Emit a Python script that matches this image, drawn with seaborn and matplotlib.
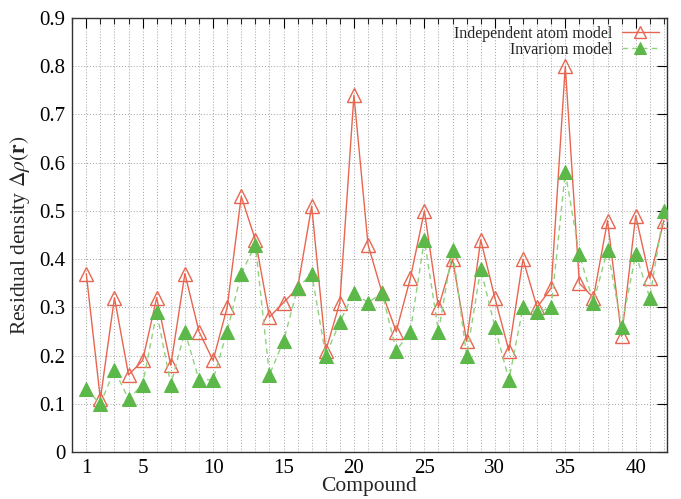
import numpy as np
import pandas as pd
import matplotlib
matplotlib.use('Agg')
import matplotlib.pyplot as plt
import seaborn as sns
from matplotlib.ticker import MultipleLocator, FixedLocator

sns.set_theme(style='white')
plt.rcParams['font.family'] = ['Liberation Serif', 'DejaVu Serif']
plt.rcParams['mathtext.fontset'] = 'stix'

# Residual density per compound
compound = list(range(1, 43))
iam = [0.37, 0.11, 0.32, 0.16, 0.19, 0.32, 0.18, 0.37, 0.25, 0.19,
       0.30, 0.53, 0.44, 0.28, 0.31, 0.34, 0.51, 0.21, 0.31, 0.74,
       0.43, 0.33, 0.25, 0.36, 0.50, 0.30, 0.40, 0.23, 0.44, 0.32,
       0.21, 0.40, 0.30, 0.34, 0.80, 0.35, 0.32, 0.48, 0.24, 0.49,
       0.36, 0.48]
invariom = [0.13, 0.10, 0.17, 0.11, 0.14, 0.29, 0.14, 0.25, 0.15, 0.15,
            0.25, 0.37, 0.43, 0.16, 0.23, 0.34, 0.37, 0.20, 0.27, 0.33,
            0.31, 0.33, 0.21, 0.25, 0.44, 0.25, 0.42, 0.20, 0.38, 0.26,
            0.15, 0.30, 0.29, 0.30, 0.58, 0.41, 0.31, 0.42, 0.26, 0.41,
            0.32, 0.50]
xticks = [1, 5, 10, 15, 20, 25, 30, 35, 40]
yticks = [0, 0.1, 0.2, 0.3, 0.4, 0.5, 0.6, 0.7, 0.8, 0.9]
ylabels = ['0', '0.1', '0.2', '0.3', '0.4', '0.5', '0.6', '0.7', '0.8', '0.9']

df = pd.DataFrame({'Compound': compound, 'iam': iam, 'inv': invariom})

red = '#E8654F'
green = '#5DB84A'

fig = plt.figure(figsize=(6.81, 4.99), dpi=100)
ax = fig.add_axes([0.106, 0.094, 0.873, 0.870])

sns.lineplot(data=df, x='Compound', y='iam', ax=ax, color=red, lw=1.0,
             marker='^', markersize=10, markerfacecolor='none',
             markeredgecolor=red, markeredgewidth=1.0,
             label='Independent atom model', zorder=3)
sns.lineplot(data=df, x='Compound', y='inv', ax=ax, color='#8FD27F', lw=1.0,
             linestyle=(0, (4, 3)), marker='^', markersize=10,
             markerfacecolor=green, markeredgecolor=green,
             label='Invariom model', zorder=4)

ax.set_xlim(0, 42.2)
ax.set_ylim(0, 0.9)
ax.xaxis.set_major_locator(FixedLocator(xticks))
ax.xaxis.set_minor_locator(MultipleLocator(1))
ax.set_yticks(yticks)
ax.set_yticklabels(ylabels)

ax.grid(which='both', axis='x', color='#A0A0A0', linestyle=(0, (1, 2)), lw=0.7)
ax.grid(which='major', axis='y', color='#A0A0A0', linestyle=(0, (1, 2)), lw=0.7)

ax.tick_params(which='major', direction='in', length=7, width=0.8,
               top=True, right=True, labelsize=15, colors='black', pad=5)
ax.tick_params(which='minor', direction='in', length=4, width=0.8,
               top=True, right=True)
for s in ax.spines.values():
    s.set_color('#333333')
    s.set_linewidth(1.0)

ax.set_xlabel('Compound', fontsize=15.5, labelpad=-1)
ax.set_ylabel(r'Residual density $\Delta\rho(\mathbf{r})$', fontsize=15.5, labelpad=5)

leg = ax.legend(loc='upper right', frameon=False, markerfirst=False,
                fontsize=11.5, handlelength=2.3, borderaxespad=0.1,
                labelspacing=0.0, handletextpad=0.6, markerscale=0.85)
for t in leg.get_texts():
    t.set_ha('right')

fig.savefig('out.png', dpi=100)
